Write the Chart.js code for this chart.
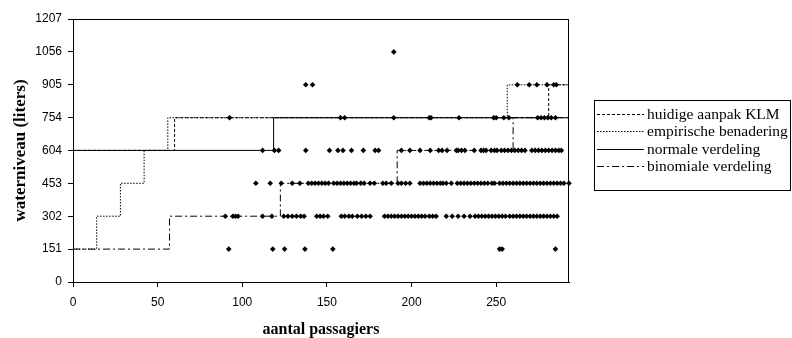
<!DOCTYPE html>
<html>
<head>
<meta charset="utf-8">
<title>waterniveau</title>
<script src="https://cdn.jsdelivr.net/npm/chart.js@4.4.1/dist/chart.umd.min.js"></script>
<style>
  html, body { margin: 0; padding: 0; background: #fff; }
  #wrap { width: 792px; height: 338px; }
</style>
</head>
<body>
<div id="wrap"><canvas id="chart" width="792" height="338"></canvas></div>
<script>
// ===================== Data =====================
// y-axis tick labels (water level in liters)
const yTickLabels = ["0", "151", "302", "453", "604", "754", "905", "1056", "1207"];
const xTicks = [0, 50, 100, 150, 200, 250];

// observed flights: number of passengers per water level
const obs151 = [92, 118, 125, 137, 153.5, 252, 253.5, 285];
const obs302 = [90, 94.5, 96, 97.5, 112, 117.5, 124.5, 127, 129.5, 132, 134.5, 136.5,
  144, 146, 148, 150.5, 158.5, 160.5, 163, 165, 168, 170.5, 173, 175.5,
  184, 186, 188, 190, 192, 194, 196, 198, 200, 202, 204, 206, 208, 210.5, 212.5, 214.5,
  220.5, 224, 227.5, 231, 234.5, 237.5, 239.5, 241.5, 243.5, 245.5, 247.5, 249.5, 251.5,
  253.5, 255.5, 258, 260, 262, 264, 266, 268, 270, 272, 274, 276, 278, 280, 282, 284, 286];
const obs453 = [108, 116.5, 123, 129.5, 134, 139, 141, 143, 145, 147, 149, 151,
  154, 156, 158, 160, 162, 164, 166, 167.5, 170, 172, 175.5, 178, 183, 185, 188,
  192, 194, 196.5, 199, 205, 207, 209, 211, 213, 215, 217, 218.5, 220.5, 223.5,
  227, 229, 231, 233, 235, 237, 239, 241, 243, 245, 247.5, 249, 252, 254, 256, 258,
  260, 262, 264, 266, 268, 270, 272, 274, 276, 278, 280, 282, 284, 286, 288, 290, 293];
const obs604 = [112, 119, 121.5, 137.5, 151.5, 156.5, 159.5, 164.5, 171.5, 178.5, 180.5,
  194, 199, 205, 211, 216, 218, 221, 226.5, 227.5, 229.5, 231.5, 237, 241, 242.5, 244,
  247, 249, 250.5, 253, 255, 257, 259, 261, 263, 265, 267, 271, 273, 275, 277, 279,
  281, 283, 285, 287, 288.5];
const obs754 = [92.5, 158, 160.5, 189.5, 210.5, 211.5, 228, 248.5, 250, 254.5, 257.5,
  274.5, 276.5, 278.5, 280.5, 282.5, 285];
const obs905 = [137.5, 141.5, 262.5, 269.5, 274, 280, 284, 285.5];
const obs1056 = [189.5];

// step curves: passenger count where the level changes, and the new level
const klmX = [0, 60, 281, 293];
const klmY = [604, 754, 905, 905];
const empX = [0, 14, 28, 42, 56, 256.5, 293];
const empY = [151, 302, 453, 604, 754, 905, 905];
const normX = [0, 118.5, 293];
const normY = [604, 754, 754];
const binX = [0, 57, 122.5, 191.5, 260, 293];
const binY = [151, 302, 453, 604, 754, 754];

const Y_MAX = 1207;
const Y_STEP = Y_MAX / 8;

// ===================== Helpers =====================
function toPoints(xs, ys) {
  return xs.map((x, i) => ({ x: x, y: ys[i] }));
}

const scatterPts = [];
[[151, obs151], [302, obs302], [453, obs453], [604, obs604],
 [754, obs754], [905, obs905], [1056, obs1056]].forEach(([lvl, xs]) => {
  xs.forEach((x) => scatterPts.push({ x: x, y: lvl }));
});

function stepSet(label, xs, ys, dash) {
  return {
    type: "line",
    label: label,
    data: toPoints(xs, ys),
    stepped: "before",
    borderColor: "#000",
    borderWidth: 1,
    borderDash: dash,
    pointRadius: 0,
    fill: false,
    order: 2,
    showInLegend: true,
  };
}

// ===================== Plugins =====================
const frame = {
  id: "frame",
  beforeDatasetsDraw(chart) {
    const a = chart.chartArea;
    const c = chart.ctx;
    c.save();
    c.strokeStyle = "#000";
    c.lineWidth = 1;
    c.strokeRect(Math.round(a.left) + 0.5, Math.round(a.top) + 0.5,
      Math.round(a.right - a.left) - 1, Math.round(a.bottom - a.top));
    c.restore();
  },
};

const boxLegend = {
  id: "boxLegend",
  afterDraw(chart) {
    const c = chart.ctx;
    const sets = chart.data.datasets.filter((d) => d.showInLegend);
    const bx = 594.5, by = 100.5, bw = 196, bh = 90;
    c.save();
    c.strokeStyle = "#000";
    c.lineWidth = 1;
    c.strokeRect(bx, by, bw, bh);
    c.font = "15.5px 'Liberation Serif', 'Times New Roman', serif";
    c.fillStyle = "#000";
    c.textBaseline = "middle";
    sets.forEach((d, i) => {
      const y = Math.round(114 + i * 17.3) + 0.5;
      c.setLineDash(d.borderDash || []);
      c.beginPath();
      c.moveTo(597, y);
      c.lineTo(644, y);
      c.stroke();
      c.fillText(d.label, 647, y);
    });
    c.restore();
  },
};

// ===================== Chart =====================
const ctx = document.getElementById("chart").getContext("2d");
new Chart(ctx, {
  data: {
    datasets: [
      {
        type: "scatter",
        label: "waarnemingen",
        data: scatterPts,
        pointStyle: "rectRot",
        pointRadius: 2.8,
        backgroundColor: "#000",
        borderColor: "#000",
        borderWidth: 0,
        clip: false,
        order: 1,
      },
      stepSet("huidige aanpak KLM", klmX, klmY, [3, 2]),
      stepSet("empirische benadering", empX, empY, [1.5, 1.5]),
      stepSet("normale verdeling", normX, normY, []),
      stepSet("binomiale verdeling", binX, binY, [7, 3, 2, 3]),
    ],
  },
  options: {
    responsive: false,
    animation: false,
    devicePixelRatio: 1,
    layout: { padding: { top: 19, right: 223, bottom: 0, left: 0 } },
    plugins: { legend: { display: false }, tooltip: { enabled: false } },
    scales: {
      x: {
        type: "linear",
        min: 0,
        max: 293,
        afterBuildTicks: (s) => { s.ticks = xTicks.map((v) => ({ value: v })); },
        afterFit: (s) => { s.height = 56; },
        grid: { drawOnChartArea: false, tickLength: 5, color: "#000" },
        border: { color: "#000" },
        ticks: {
          padding: 8,
          color: "#000",
          font: { family: "'Liberation Sans', Arial, sans-serif", size: 12 },
        },
        title: {
          display: true,
          text: "aantal passagiers",
          color: "#000",
          padding: { top: 0, bottom: 0 },
          font: { family: "'Liberation Serif', 'Times New Roman', serif", size: 16, weight: "bold", lineHeight: 1 },
        },
      },
      y: {
        type: "linear",
        min: 0,
        max: Y_MAX,
        afterBuildTicks: (s) => {
          s.ticks = yTickLabels.map((t, i) => ({ value: i * Y_STEP }));
        },
        afterFit: (s) => { s.width = 73; },
        grid: { drawOnChartArea: false, tickLength: 5, color: "#000" },
        border: { color: "#000" },
        ticks: {
          padding: 6,
          color: "#000",
          font: { family: "'Liberation Sans', Arial, sans-serif", size: 12 },
          callback: (v, i) => yTickLabels[i],
        },
        title: {
          display: true,
          text: "waterniveau (liters)",
          color: "#000",
          padding: { top: 12, bottom: 0 },
          font: { family: "'Liberation Serif', 'Times New Roman', serif", size: 17, weight: "bold", lineHeight: 1 },
        },
      },
    },
  },
  plugins: [frame, boxLegend],
});
</script>
</body>
</html>
